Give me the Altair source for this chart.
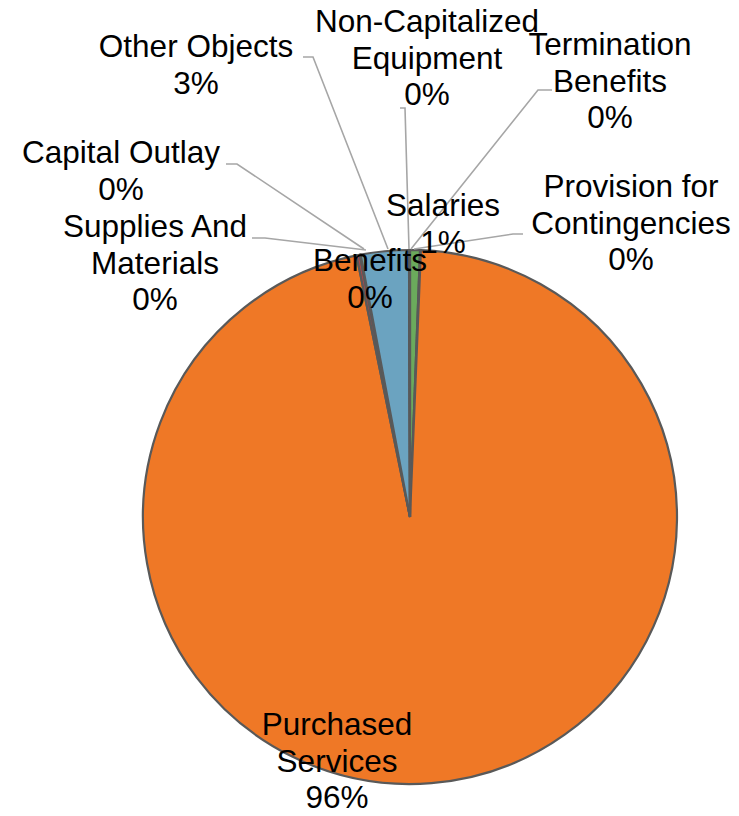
import altair as alt
import pandas as pd

# ---- data ----
categories = ["Salaries", "Benefits", "Purchased Services", "Supplies And Materials",
              "Capital Outlay", "Other Objects", "Non-Capitalized Equipment",
              "Termination Benefits", "Provision for Contingencies"]
values = [0.6, 0.05, 96.15, 0.2, 0.05, 2.9, 0.02, 0.02, 0.02]
colors = ["#6BAA5C", "#A5A5A5", "#EF7826", "#B0464B", "#8C6E9E", "#6BA3C0",
          "#4E7DB8", "#E0A63A", "#7F7F7F"]
label_lines = [["Salaries"], ["Benefits"], ["Purchased", "Services"], ["Supplies And", "Materials"],
               ["Capital Outlay"], ["Other Objects"], ["Non-Capitalized", "Equipment"],
               ["Termination", "Benefits"], ["Provision for", "Contingencies"]]

total = sum(values)
pie = pd.DataFrame({"cat": categories, "val": values, "ord": list(range(len(categories)))})

# ---- label layout (pixel anchors for data labels) ----
label_x = [443, 370, 337, 155, 121, 196, 427, 610, 631]
label_y = [216, 271, 735, 237, 163, 57, 32, 55, 197]
labels = pd.DataFrame({
    "txt": ["\n".join(l + [f"{round(v / total * 100)}%"]) for l, v in zip(label_lines, values)],
    "lx": label_x, "ly": label_y,
})

# leader lines: label end -> elbow -> pie edge
leaders = pd.DataFrame([
    ("Other Objects", 0, 303, 57), ("Other Objects", 1, 313, 57), ("Other Objects", 2, 388, 249),
    ("Non-Cap", 0, 400, 108), ("Non-Cap", 1, 405, 108), ("Non-Cap", 2, 409, 249),
    ("Termination", 0, 552, 90), ("Termination", 1, 538, 90), ("Termination", 2, 411, 249),
    ("Capital", 0, 226, 164), ("Capital", 1, 237, 164), ("Capital", 2, 364, 249),
    ("Supplies", 0, 252, 238), ("Supplies", 1, 265, 238), ("Supplies", 2, 366, 250),
    ("Provision", 0, 523, 234), ("Provision", 1, 513, 234), ("Provision", 2, 414, 249),
], columns=["g", "i", "px", "py"])

arcs = alt.Chart(pie).mark_arc(outerRadius=267, stroke="#595959", strokeWidth=2.2).encode(
    theta=alt.Theta("val:Q", stack=True),
    order=alt.Order("ord:Q", sort="ascending"),
    color=alt.Color("cat:N", scale=alt.Scale(domain=categories, range=colors), legend=None),
    x=alt.value(410),
    y=alt.value(517),
)

lines = alt.Chart(leaders).mark_line(color="#A6A6A6", strokeWidth=1.6).encode(
    x=alt.X("px:Q", scale=None, axis=None),
    y=alt.Y("py:Q", scale=None, axis=None),
    detail="g:N",
    order="i:Q",
)

text = alt.Chart(labels).mark_text(
    font="Liberation Sans", fontSize=31.5, lineBreak="\n", lineHeight=36.5,
    align="center", baseline="alphabetic", color="#000000",
).encode(
    x=alt.X("lx:Q", scale=None, axis=None),
    y=alt.Y("ly:Q", scale=None, axis=None),
    text="txt:N",
)

chart = alt.layer(arcs, lines, text).properties(
    width=739, height=816, padding=0, autosize=alt.AutoSizeParams(type="none"),
    background="white",
).configure_view(stroke=None)

chart.save("out.html", embed_options={"renderer": "svg", "actions": False})
